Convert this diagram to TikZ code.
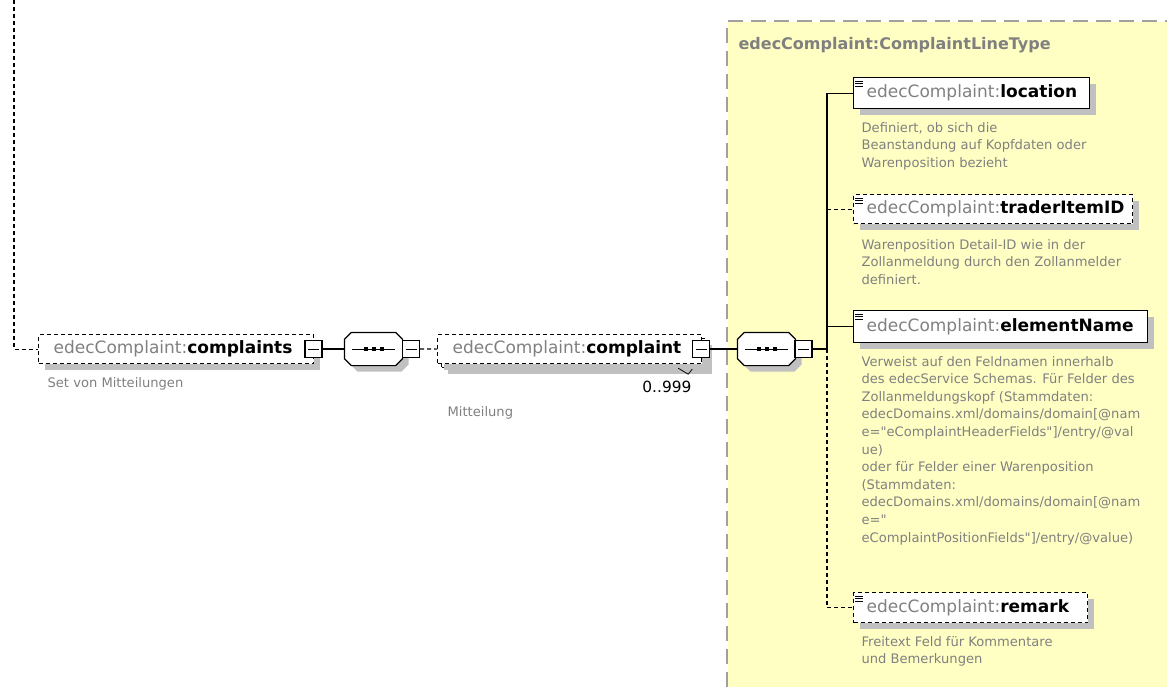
\documentclass[tikz,border=0pt]{standalone}
\usepackage{fontspec}
\setmainfont{DejaVu Sans}[Ligatures=TeXOff]
\usetikzlibrary{shadows}
\definecolor{ylw}{RGB}{255,255,196}
\definecolor{ybord}{RGB}{160,160,160}
\definecolor{shd}{RGB}{192,192,192}
\definecolor{pfxgray}{RGB}{128,128,128}
\definecolor{docgray}{RGB}{128,128,128}
\newcommand\elname[1]{\textcolor{pfxgray}{edecComplaint:}\textbf{#1}}
\newcommand\octo[3]{([xshift=#2+7pt,yshift=#3]#1.north west) -- ([xshift=#2-7pt,yshift=#3]#1.north east) -- ([xshift=#2,yshift=#3-7pt]#1.north east) -- ([xshift=#2,yshift=#3+7pt]#1.south east) -- ([xshift=#2-7pt,yshift=#3]#1.south east) -- ([xshift=#2+7pt,yshift=#3]#1.south west) -- ([xshift=#2,yshift=#3+7pt]#1.south west) -- ([xshift=#2,yshift=#3-7pt]#1.north west) -- cycle}
\tikzset{
  opt/.style={dash pattern=on 4pt off 3pt},
  shad/.style={drop shadow={shadow xshift=6pt,shadow yshift=-6pt,fill=shd,opacity=1}},
  elem/.style={draw, fill=white, anchor=north west, inner xsep=13pt, inner ysep=0pt,
    align=left, font=\fontsize{17}{20}\selectfont, shad},
  doc/.style={font=\fontsize{13.1}{17.6}\selectfont, text=docgray, align=left,
    anchor=north west, inner sep=0pt},
  mbox/.style={draw, fill=white, minimum size=17pt, inner sep=0pt,
    path picture={\draw[line width=1pt] ([xshift=3pt]path picture bounding box.west) -- ([xshift=-3pt]path picture bounding box.east);}},
  seqarea/.style={minimum width=57pt, minimum height=32pt, inner sep=0pt},
  icon/.style={line width=0.8pt},
}
\begin{document}
\begin{tikzpicture}[x=1pt,y=-1pt,line width=1.2pt]
\useasboundingbox (0,0) rectangle (1167,686);
% complex type region
\node[fill=ylw, minimum width=440pt, minimum height=665pt, anchor=north west, inner sep=0pt] (grp) at (727,21) {};
\draw[ybord, line width=1.6pt, dash pattern=on 15pt off 8pt] (grp.south west) -- (grp.north west) -- (grp.north east);
\node[anchor=west, inner sep=0pt, text=pfxgray, font=\bfseries\fontsize{16}{19}\selectfont] (ttl) at (738,45) {edecComplaint:ComplaintLineType};

% sequence compositors
\node[seqarea] (sq1) at (373.5,349) {};
\node[seqarea] (sq2) at (766.5,349) {};
\foreach \n in {sq1,sq2}{
  \fill[shd] \octo{\n}{6pt}{-6pt};
  \draw[fill=white] \octo{\n}{0pt}{0pt};
  \draw[line width=1pt] ([xshift=8pt]\n.west) -- ([xshift=-8pt]\n.east);
  \foreach \dx in {-8,0,8}{\fill[black] ([xshift=\dx pt]\n.center) +(-2pt,-2pt) rectangle +(2pt,2pt);}
}

% complaints
\node[elem, opt, text width=245pt, inner xsep=15pt, minimum height=29pt] (cs) at (38,334) {\elname{complaints}};
\node[doc, anchor=west] (csd) at (47,384) {Set von Mitteilungen};
\node[mbox] (csm) at (313.5,349) {};
\node[mbox] (sq1m) at (411,349) {};

% complaint (multiple)
\node[draw, opt, fill=white, minimum width=264pt, minimum height=29pt, anchor=north west, inner sep=0pt, shad] (cpb) at (441,338) {};
\node[elem, opt, text width=234pt, inner xsep=15pt, minimum height=29pt, drop shadow={opacity=0}] (cp) at (437,334) {\elname{complaint}};
\draw[line width=0.8pt] ([xshift=-28pt]cpb.south east) -- ([xshift=-18pt,yshift=-6pt]cpb.south east) -- ([xshift=-14pt,yshift=-1pt]cpb.south east);
\node[anchor=east, inner sep=0pt, font=\fontsize{15.4}{18}\selectfont] (mult) at (692,387) {0..999};
\node[doc, anchor=west] (cpd) at (447,413) {Mitteilung};
\node[mbox] (cpm) at (701,349) {};
\node[mbox] (sq2m) at (803.5,349) {};

% children
\node[elem, text width=210pt, minimum height=31pt] (loc) at (853,77) {\elname{location}};
\node[doc] (locd) at (861,121.6) {Definiert, ob sich die\\Beanstandung auf Kopfdaten oder\\Warenposition bezieht};
\node[elem, opt, text width=253pt, minimum height=29pt] (trd) at (853,194) {\elname{traderItemID}};
\node[doc] (trdd) at (861,238.6) {Warenposition Detail-ID wie in der\\Zollanmeldung durch den Zollanmelder\\definiert.};
\node[elem, text width=268pt, minimum height=32pt] (eln) at (853,310) {\elname{elementName}};
\node[doc] (elnd) at (861,355.6) {Verweist auf den Feldnamen innerhalb\\des edecService Schemas. Für Felder des\\Zollanmeldungskopf (Stammdaten:\\edecDomains.xml/domains/domain[@nam\\e="eComplaintHeaderFields"]/entry/@val\\ue)\\oder für Felder einer Warenposition\\(Stammdaten:\\edecDomains.xml/domains/domain[@nam\\e="\\eComplaintPositionFields"]/entry/@value)};
\node[elem, opt, text width=208pt, minimum height=30pt] (rmk) at (853,592) {\elname{remark}};
\node[doc] (rmkd) at (861,635.6) {Freitext Feld für Kommentare\\und Bemerkungen};

\foreach \n in {loc,trd,eln,rmk}{
  \foreach \dy in {4,6.5,9}{
    \draw[icon] ([xshift=2pt,yshift=-\dy pt]\n.north west) -- ++(8pt,0pt);
  }
}

% connectors
\coordinate (top) at (14,0);
\coordinate (bus) at (827,349);
\draw[opt] (top) |- (cs.west);
\draw (csm.east) -- (sq1.west);
\draw[opt] (sq1m.east) -- (cp.west);
\draw (cpm.east) -- (sq2.west);
\draw (sq2m.east) -- (bus);
\draw (bus) |- (loc.west);
\draw (bus) |- (eln.west);
\draw[opt] (bus |- trd.west) -- (trd.west);
\draw[opt] (bus) |- (rmk.west);
\end{tikzpicture}
\end{document}
